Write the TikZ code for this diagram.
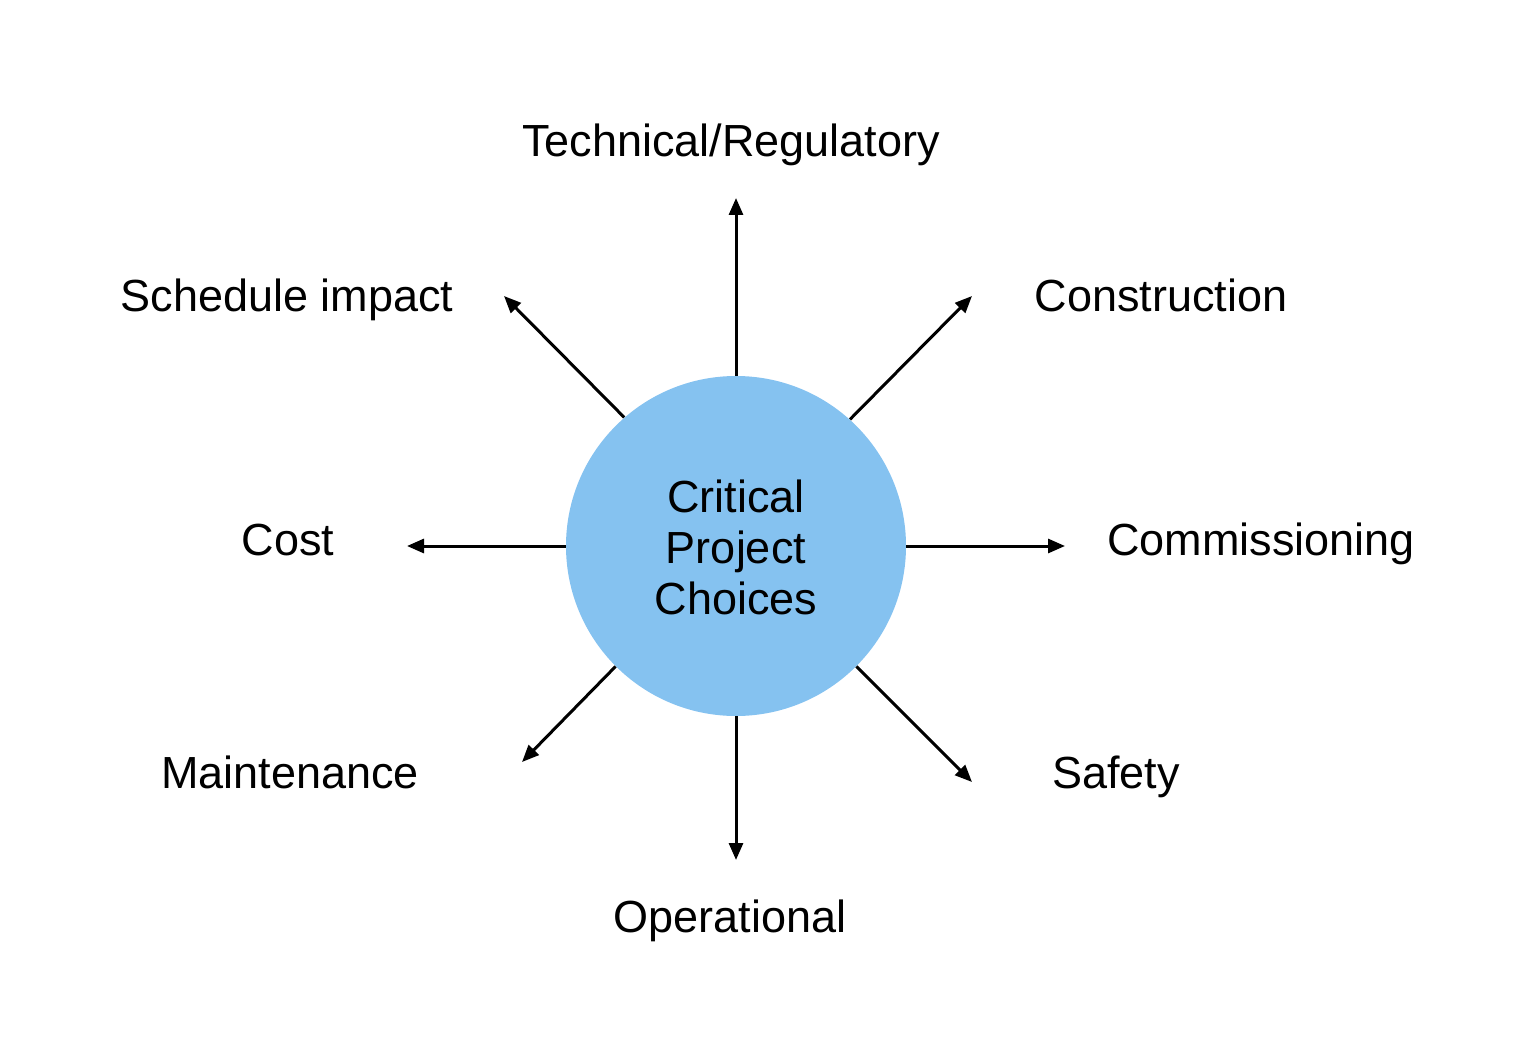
\documentclass[tikz,border=0pt]{standalone}
\usepackage{fontspec}
\setmainfont{Liberation Sans}
\usetikzlibrary{arrows.meta}
\definecolor{hubblue}{HTML}{85C2F0}
\begin{document}
\begin{tikzpicture}[x=0.5pt,y=-0.5pt,
  arr/.style={line width=1.5pt,-{Triangle[length=8.5pt,width=7pt]}},
  lbl/.style={font=\fontsize{22.5pt}{25.5pt}\selectfont,anchor=base,inner sep=0pt},
  hub/.style={circle,fill=hubblue,minimum size=170pt,inner sep=0pt}]
\useasboundingbox (0,0) rectangle (1536,1059);
\node[hub] (c) at (736,546) {};
\node[lbl] (c1) at (736,512) {Critical};
\node[lbl] (c2) at (736,563) {Project};
\node[lbl] (c3) at (736,614) {Choices};
\node[lbl] (tech) at (731,157) {Technical/Regulatory};
\node[lbl] (sched) at (287,312) {Schedule impact};
\node[lbl] (constr) at (1161,312) {Construction};
\node[lbl] (cost) at (288,555) {Cost};
\node[lbl] (comm) at (1261,555) {Commissioning};
\node[lbl] (maint) at (290,788) {Maintenance};
\node[lbl] (safety) at (1116,788) {Safety};
\node[lbl] (oper) at (730,932) {Operational};
\coordinate (eN) at (736,198);
\coordinate (eNE) at (972,296);
\coordinate (eE) at (1065,546);
\coordinate (eSE) at (972,782);
\coordinate (eS) at (736,860);
\coordinate (eSW) at (522,762);
\coordinate (eW) at (407,546);
\coordinate (eNW) at (504,296);
\draw[arr] (c.north) -- (eN);
\draw[arr] (c.48) -- (eNE);
\draw[arr] (c.east) -- (eE);
\draw[arr] (c.-45) -- (eSE);
\draw[arr] (c.south) -- (eS);
\draw[arr] (c.-135) -- (eSW);
\draw[arr] (c.west) -- (eW);
\draw[arr] (c.131) -- (eNW);
\end{tikzpicture}
\end{document}
